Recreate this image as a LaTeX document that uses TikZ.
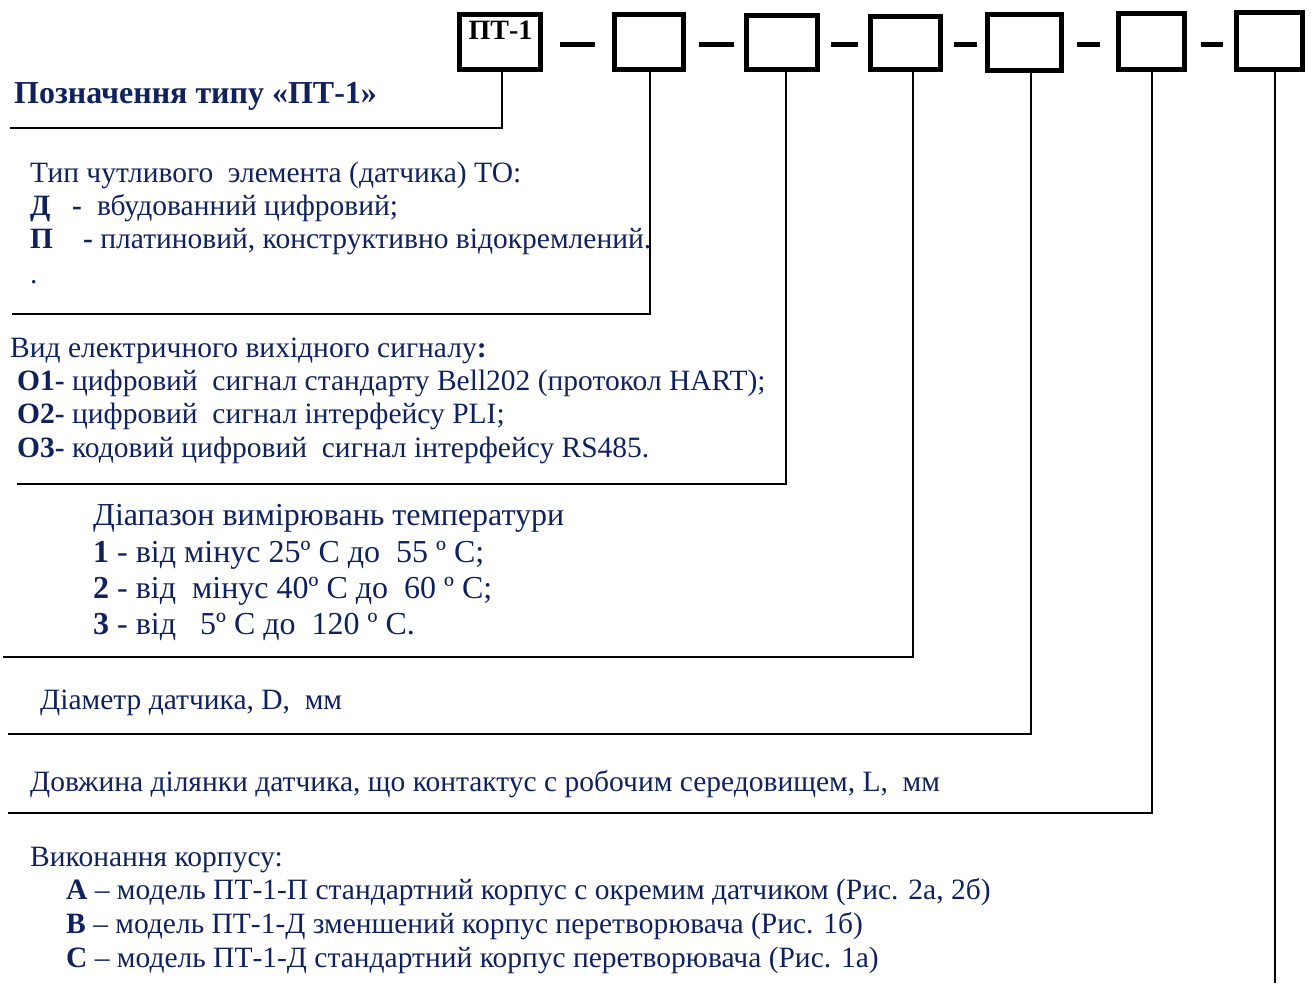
\documentclass[tikz,border=0pt]{standalone}
\usepackage{fontspec}
\setmainfont{Liberation Serif}
\usetikzlibrary{positioning}
\definecolor{TypeNavy}{HTML}{10225E}
\tikzset{
  codebox/.style={draw, line width=5pt, inner sep=0pt},
  joint/.style={line width=5pt},
  leader/.style={line width=2.6pt},
  txt/.style={anchor=base west, inner sep=0pt, text=TypeNavy, font=\fontsize{29.5}{34}\selectfont},
  bigtxt/.style={txt, font=\fontsize{32}{36}\selectfont},
}
\begin{document}
\begin{tikzpicture}[x=1pt, y=-1pt]
\useasboundingbox (0,0) rectangle (1311,983);
% --- code boxes ---
\node[codebox, minimum width=81pt, minimum height=55pt] (b0) at (500,42) {};
\node[anchor=base, inner sep=0pt, font=\fontsize{28}{28}\selectfont\bfseries] (b0t) at (500.5,39) {ПТ-1};
\node[codebox, minimum width=69pt, minimum height=55pt] (b1) at (649,42) {};
\node[codebox, minimum width=71pt, minimum height=54pt] (b2) at (782,42.5) {};
\node[codebox, minimum width=70pt, minimum height=53pt] (b3) at (905.5,43) {};
\node[codebox, minimum width=74pt, minimum height=56pt] (b4) at (1024.5,42.5) {};
\node[codebox, minimum width=66pt, minimum height=56pt] (b5) at (1151.5,41.5) {};
\node[codebox, minimum width=66pt, minimum height=57pt] (b6) at (1269.5,41) {};
% dashes between boxes
\coordinate (dashy) at (0,44);
\foreach \a/\b/\l/\r in {0/1/16.5/17.5, 1/2/12.5/10.5, 2/3/10.5/10.5, 3/4/10.5/8.5, 4/5/12.5/16.5, 5/6/13.5/11.5}
  \draw[joint, shorten <=\l pt, shorten >=\r pt] (b\a.east |- dashy) -- (b\b.west |- dashy);
% --- leaders ---
\coordinate (f0) at (502,128);  \coordinate (e0) at (10,128);
\coordinate (f1) at (650,314);  \coordinate (e1) at (12,314);
\coordinate (f2) at (786,484);  \coordinate (e2) at (17,484);
\coordinate (f3) at (913,657);  \coordinate (e3) at (3,657);
\coordinate (f4) at (1031,734); \coordinate (e4) at (8,734);
\coordinate (f5) at (1152,813); \coordinate (e5) at (8,813);
\coordinate (f6) at (1275,983);
\foreach \i in {0,...,5}
  \draw[leader] (b\i.south -| f\i) -- (f\i) -- (e\i);
\draw[leader] (b6.south -| f6) -- (f6);
% --- texts ---
\node[txt, font=\fontsize{32}{36}\selectfont\bfseries] (title) at (14,103) {Позначення типу «ПТ-1»};
\node[txt] (to0) at (30,182) {Тип чутливого\ \ элемента (датчика) ТО:};
\node[txt] (to1) at (30,215) {\makebox[42pt][l]{\textbf{Д}}\textbf{-}\hspace{15pt}вбудованний цифровий;};
\node[txt] (to2) at (30,248) {\makebox[53pt][l]{\textbf{П}}\textbf{-} платиновий, конструктивно відокремлений.};
\node[txt] (to3) at (30,283) {.};
\node[txt] (sg0) at (10,357) {Вид електричного вихідного сигналу\textbf{:}};
\node[txt] (sg1) at (17,390) {\textbf{О1-} цифровий\ \ сигнал стандарту Bell202 (протокол HART);};
\node[txt] (sg2) at (17,423) {\textbf{О2-} цифровий\ \ сигнал інтерфейсу PLI;};
\node[txt] (sg3) at (17,457) {\textbf{О3-} кодовий цифровий\ \ сигнал інтерфейсу RS485.};
\node[bigtxt] (rg0) at (93,525) {Діапазон вимірювань температури};
\node[bigtxt] (rg1) at (93,562) {\textbf{1} - від мінус 25º С до\ \ 55 º С;};
\node[bigtxt] (rg2) at (93,598) {\textbf{2} - від\ \ мінус 40º С до\ \ 60 º С;};
\node[bigtxt] (rg3) at (93,634) {\textbf{3} - від\ \ \ 5º С до\ \ 120 º С.};
\node[txt] (dm) at (40,709) {Діаметр датчика, D,\ \ мм};
\node[txt] (ln) at (30,791) {Довжина ділянки датчика, що контактус с робочим середовищем, L,\ \ мм};
\node[txt] (hs0) at (30,866) {Виконання корпусу:};
\node[txt] (hs1) at (66,899) {\textbf{А} – модель ПТ-1-П стандартний корпус с окремим датчиком (Рис. 2а, 2б)};
\node[txt] (hs2) at (66,933) {\textbf{В} – модель ПТ-1-Д зменшений корпус перетворювача (Рис. 1б)};
\node[txt] (hs3) at (66,967) {\textbf{С} – модель ПТ-1-Д стандартний корпус перетворювача (Рис. 1а)};
\end{tikzpicture}
\end{document}
